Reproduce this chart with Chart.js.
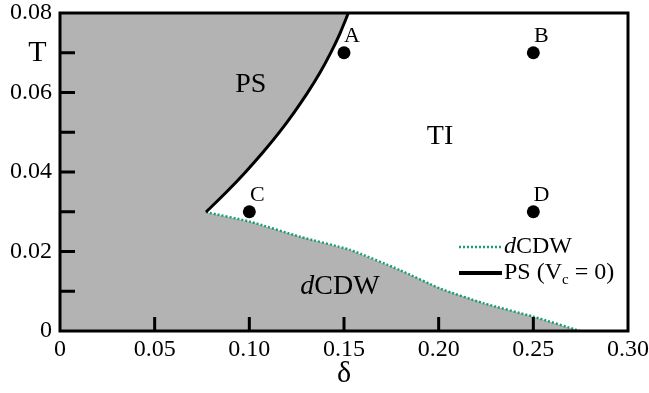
<!DOCTYPE html>
<html>
<head>
<meta charset="utf-8">
<script src="https://cdn.jsdelivr.net/npm/chart.js@4.4.1/dist/chart.umd.min.js"></script>
<style>
  html, body { margin: 0; padding: 0; background: #fff; }
  canvas { display: block; }
</style>
</head>
<body>
<canvas id="phaseChart" width="649" height="393"></canvas>
<script>
// PS boundary (V_c = 0)
const psDelta = [0.0771, 0.0878, 0.0978, 0.1071, 0.1157, 0.1235, 0.1307, 0.1372, 0.1429, 0.1479, 0.1523];
const psT     = [0.0299, 0.0349, 0.0399, 0.0449, 0.0499, 0.0549, 0.0599, 0.0649, 0.0699, 0.0749, 0.0800];

// dCDW boundary
const cdwDelta = [0.0771, 0.1003, 0.1268, 0.1532, 0.1796, 0.2007, 0.2236, 0.2500, 0.2746];
const cdwT     = [0.0299, 0.0275, 0.0237, 0.0204, 0.0153, 0.0107, 0.0070, 0.0036, 0.0000];

// marked points
const pointNames = ['A', 'B', 'C', 'D'];
const pointDelta = [0.15, 0.25, 0.10, 0.25];
const pointT     = [0.07, 0.07, 0.03, 0.03];

// tick labels
const xTickLabels = ['0', '0.05', '0.10', '0.15', '0.20', '0.25', '0.30'];
const yTickLabels = ['0', '0.02', '0.04', '0.06', '0.08'];

const SERIF = '"Liberation Serif", "DejaVu Serif", serif';
const GREEN = '#1b9e77';
const GRAY = '#b3b3b3';

const xy = (xs, ys) => xs.map((v, i) => ({x: v, y: ys[i]}));
const psPts = xy(psDelta, psT);
const cdwPts = xy(cdwDelta, cdwT);

// gray region: top-left corner, down the PS line, then along the dCDW line
const grayPts = [{x: 0, y: 0.08}].concat(psPts.slice().reverse(), cdwPts.slice(1));

function drawRich(ctx, parts, x, y, center) {
    let w = 0;
    parts.forEach(p => { ctx.font = p[1]; w += ctx.measureText(p[0]).width; });
    let cx = center ? x - w / 2 : x;
    parts.forEach(p => {
        ctx.font = p[1];
        ctx.fillText(p[0], cx, y + (p[2] || 0));
        cx += ctx.measureText(p[0]).width;
    });
}

const decor = {
    id: 'decor',
    afterDatasetsDraw(chart) {
        const {ctx, chartArea: a, scales: {x, y}} = chart;
        ctx.save();
        ctx.strokeStyle = '#000';
        ctx.lineWidth = 3;
        ctx.strokeRect(a.left, a.top, a.right - a.left, a.bottom - a.top);

        // inward ticks
        ctx.beginPath();
        x.ticks.forEach(t => {
            if (t.value <= 1e-9 || t.value >= 0.3 - 1e-9) return;
            const px = x.getPixelForValue(t.value);
            ctx.moveTo(px, a.bottom);
            ctx.lineTo(px, a.bottom - 14);
        });
        y.ticks.forEach(t => {
            if (t.value <= 1e-9 || t.value >= 0.08 - 1e-9) return;
            const py = y.getPixelForValue(t.value);
            ctx.moveTo(a.left, py);
            ctx.lineTo(a.left + 15, py);
        });
        ctx.stroke();

        ctx.fillStyle = '#000';
        ctx.textBaseline = 'middle';

        // T axis label next to the 0.07 tick
        ctx.font = '30px ' + SERIF;
        ctx.textAlign = 'center';
        ctx.fillText('T', 37.5, y.getPixelForValue(0.07));

        // point labels
        ctx.font = '22px ' + SERIF;
        chart.getDatasetMeta(0).data.forEach((el, i) => {
            ctx.fillText(pointNames[i], el.x + 8, el.y - 17);
        });

        // region labels
        ctx.textAlign = 'left';
        const big = '28px ' + SERIF;
        drawRich(ctx, [['PS', big]], x.getPixelForValue(0.1008), y.getPixelForValue(0.0619), true);
        drawRich(ctx, [['TI', big]], x.getPixelForValue(0.2007), y.getPixelForValue(0.0489), true);
        drawRich(ctx, [['d', 'italic ' + big], ['CDW', big]], x.getPixelForValue(0.1479), y.getPixelForValue(0.0111), true);

        // legend
        const lx = a.right - 169, ly1 = a.bottom - 84, ly2 = a.bottom - 58;
        ctx.strokeStyle = GREEN;
        ctx.lineWidth = 2.5;
        ctx.setLineDash([2, 2]);
        ctx.beginPath();
        ctx.moveTo(lx, ly1);
        ctx.lineTo(lx + 43, ly1);
        ctx.stroke();
        ctx.setLineDash([]);
        ctx.strokeStyle = '#000';
        ctx.lineWidth = 4;
        ctx.beginPath();
        ctx.moveTo(lx, ly2);
        ctx.lineTo(lx + 43, ly2);
        ctx.stroke();
        const lf = '24px ' + SERIF;
        drawRich(ctx, [['d', 'italic ' + lf], ['CDW', lf]], lx + 45, ly1, false);
        drawRich(ctx, [['PS (V', lf], ['c', '15px ' + SERIF, 7], [' = 0)', lf]], lx + 45, ly2, false);
        ctx.restore();
    }
};

new Chart(document.getElementById('phaseChart'), {
    type: 'line',
    data: {
        datasets: [
            {
                label: 'points',
                data: xy(pointDelta, pointT),
                showLine: false,
                pointRadius: 6.5,
                pointBackgroundColor: '#000',
                pointBorderWidth: 0,
                order: 0
            },
            {
                label: 'PS (Vc = 0)',
                data: psPts,
                borderColor: '#000',
                borderWidth: 3,
                tension: 0.2,
                pointRadius: 0,
                fill: false,
                order: 1
            },
            {
                label: 'dCDW',
                data: cdwPts,
                borderColor: GREEN,
                borderWidth: 2.5,
                borderDash: [2, 2],
                tension: 0.2,
                pointRadius: 0,
                fill: false,
                order: 2
            },
            {
                label: 'region',
                data: grayPts,
                borderWidth: 0,
                borderColor: 'rgba(0,0,0,0)',
                backgroundColor: GRAY,
                pointRadius: 0,
                tension: 0,
                fill: 'origin',
                order: 3
            }
        ]
    },
    options: {
        responsive: false,
        animation: false,
        layout: {padding: {top: 13, right: 21, left: 0, bottom: 0}, autoPadding: false},
        plugins: {legend: {display: false}, tooltip: {enabled: false}},
        scales: {
            x: {
                type: 'linear',
                min: 0,
                max: 0.3,
                grid: {display: false, drawTicks: false},
                border: {display: false},
                ticks: {
                    stepSize: 0.05,
                    padding: 7,
                    color: '#000',
                    maxRotation: 0,
                    font: {family: SERIF, size: 24, lineHeight: 1},
                    callback: (v, i) => xTickLabels[i]
                },
                title: {
                    display: true,
                    text: 'δ',
                    color: '#000',
                    font: {family: SERIF, size: 30, lineHeight: 1},
                    padding: {top: 0, bottom: 4}
                },
                afterFit: s => { s.height = 62; s.paddingLeft = 0; s.paddingRight = 0; }
            },
            y: {
                min: 0,
                max: 0.08,
                grid: {display: false, drawTicks: false},
                border: {display: false},
                ticks: {
                    stepSize: 0.01,
                    padding: 8,
                    color: '#000',
                    font: {family: SERIF, size: 24, lineHeight: 1},
                    callback: (v, i) => (i % 2 === 0 ? yTickLabels[i / 2] : '')
                },
                afterFit: s => { s.width = 60; s.paddingTop = 0; s.paddingBottom = 0; }
            }
        }
    },
    plugins: [decor]
});
</script>
</body>
</html>
